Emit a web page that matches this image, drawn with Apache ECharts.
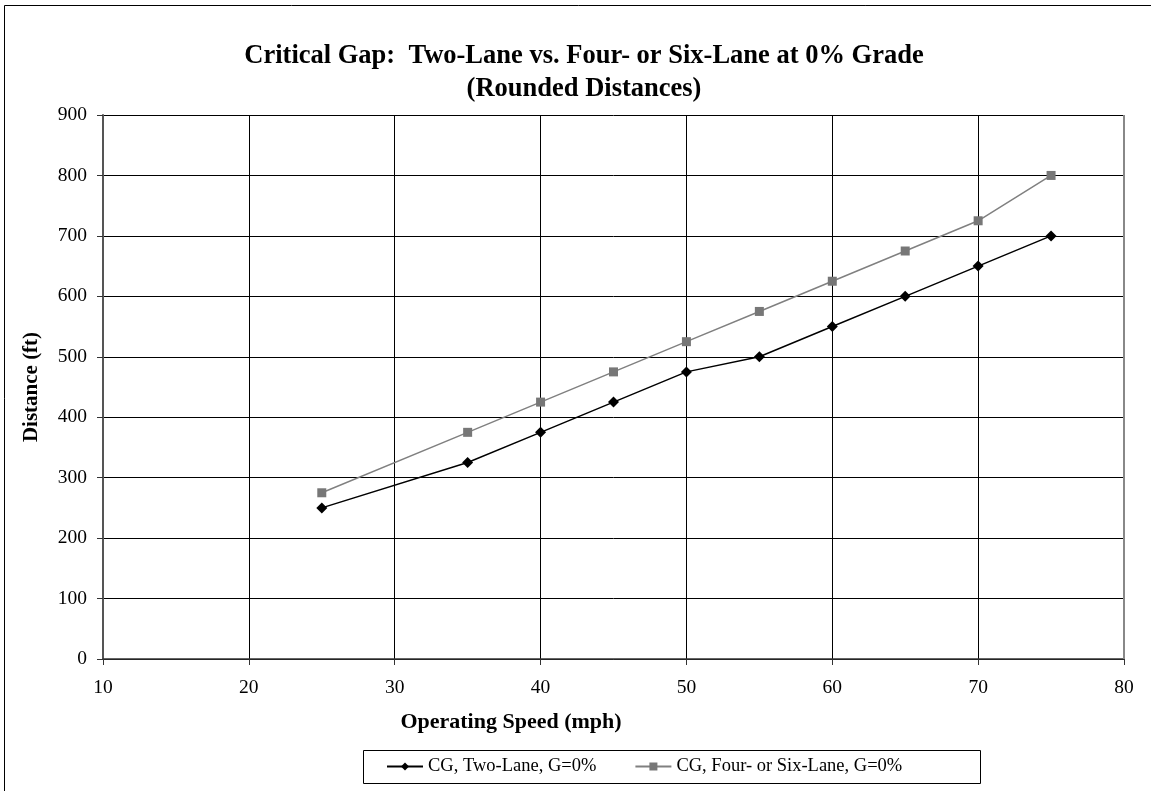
<!doctype html>
<html>
<head>
	<meta charset="utf-8">
	<title>Critical Gap</title>
	<script src="https://cdn.jsdelivr.net/npm/echarts@6.0.0/dist/echarts.min.js"></script>
	<style>
		html, body { margin: 0; padding: 0; background: #fff; }
		#main { width: 1151px; height: 791px; }
	</style>
</head>
<body>
	<div id="main"></div>
	<script>
		// operating speed (mph)
		var speeds = [25, 35, 40, 45, 50, 55, 60, 65, 70, 75];
		// rounded distances (ft)
		var twoLane = [250, 325, 375, 425, 475, 500, 550, 600, 650, 700];
		var fourSixLane = [275, 375, 425, 475, 525, 575, 625, 675, 725, 800];
		var seriesNames = ['CG, Two-Lane, G=0%', 'CG, Four- or Six-Lane, G=0%'];

		function pairs(ys) {
			return speeds.map(function (x, i) { return [x, ys[i]]; });
		}

		var font = '"Liberation Serif", "Times New Roman", serif';
		var chart = echarts.init(document.getElementById('main'));
		chart.setOption({
			animation: false,
			backgroundColor: '#fff',
			textStyle: { fontFamily: font, color: '#000' },
			title: {
				text: 'Critical Gap:  Two-Lane vs. Four- or Six-Lane at 0% Grade\n(Rounded Distances)',
				left: 579,
				textAlign: 'center',
				top: 35,
				textStyle: { fontFamily: font, fontSize: 26.5, fontWeight: 'bold', color: '#000', lineHeight: 33 }
			},
			graphic: [
				{
					id: 'frame',
					type: 'rect',
					shape: { x: 4.5, y: 5.5, width: 1200, height: 900 },
					style: { fill: null, stroke: '#000', lineWidth: 1 },
					silent: true
				},
				{
					id: 'legendBox',
					type: 'rect',
					shape: { x: 363.5, y: 750.5, width: 617, height: 33 },
					style: { fill: null, stroke: '#000', lineWidth: 1 },
					silent: true
				},
				{
					id: 'xName',
					type: 'text',
					x: 511,
					y: 722,
					style: {
						text: 'Operating Speed (mph)',
						font: 'bold 22px ' + font,
						fill: '#000',
						align: 'center',
						verticalAlign: 'middle'
					},
					silent: true
				}
			],
			legend: {
				bottom: 10,
				left: 381,
				itemGap: 38,
				itemWidth: 36,
				itemHeight: 10,
				textStyle: { fontFamily: font, fontSize: 18.5, color: '#000' },
				data: seriesNames
			},
			grid: { left: 103, right: 27, top: 115, bottom: 132 },
			xAxis: {
				type: 'value',
				min: 10,
				max: 80,
				interval: 10,
				axisLine: { show: true, lineStyle: { color: '#333', width: 1.5 } },
				axisTick: { show: true, inside: false, length: 6, lineStyle: { color: '#333' } },
				axisLabel: { fontFamily: font, fontSize: 19.5, color: '#000', margin: 19 },
				splitLine: { show: true, lineStyle: { color: '#000', width: 1 } }
			},
			yAxis: {
				type: 'value',
				min: 0,
				max: 900,
				interval: 100,
				name: 'Distance (ft)',
				nameLocation: 'middle',
				nameGap: 61,
				nameTextStyle: { fontFamily: font, fontSize: 21, fontWeight: 'bold', color: '#000' },
				axisLine: { show: true, lineStyle: { color: '#555', width: 2 } },
				axisTick: { show: true, inside: false, length: 6, lineStyle: { color: '#333' } },
				axisLabel: { fontFamily: font, fontSize: 19.5, color: '#000', margin: 16 },
				splitLine: { show: true, lineStyle: { color: '#000', width: 1 } }
			},
			series: [
				{
					name: seriesNames[0],
					type: 'line',
					data: pairs(twoLane),
					symbol: 'diamond',
					symbolSize: 11,
					itemStyle: { color: '#000' },
					lineStyle: { color: '#000', width: 1.5 },
					z: 3
				},
				{
					name: seriesNames[1],
					type: 'line',
					data: pairs(fourSixLane),
					symbol: 'rect',
					symbolSize: 9,
					itemStyle: { color: '#777' },
					lineStyle: { color: '#808080', width: 1.5 },
					z: 2
				}
			]
		});

		// gray right-hand edge of the plot area
		var topRight = chart.convertToPixel({ gridIndex: 0 }, [80, 900]);
		var bottomRight = chart.convertToPixel({ gridIndex: 0 }, [80, 0]);
		chart.setOption({
			graphic: [{
				id: 'rightEdge',
				type: 'line',
				shape: { x1: topRight[0], y1: topRight[1], x2: bottomRight[0], y2: bottomRight[1] },
				style: { stroke: '#888', lineWidth: 2 },
				z: 10,
				silent: true
			}]
		});
	</script>
</body>
</html>
